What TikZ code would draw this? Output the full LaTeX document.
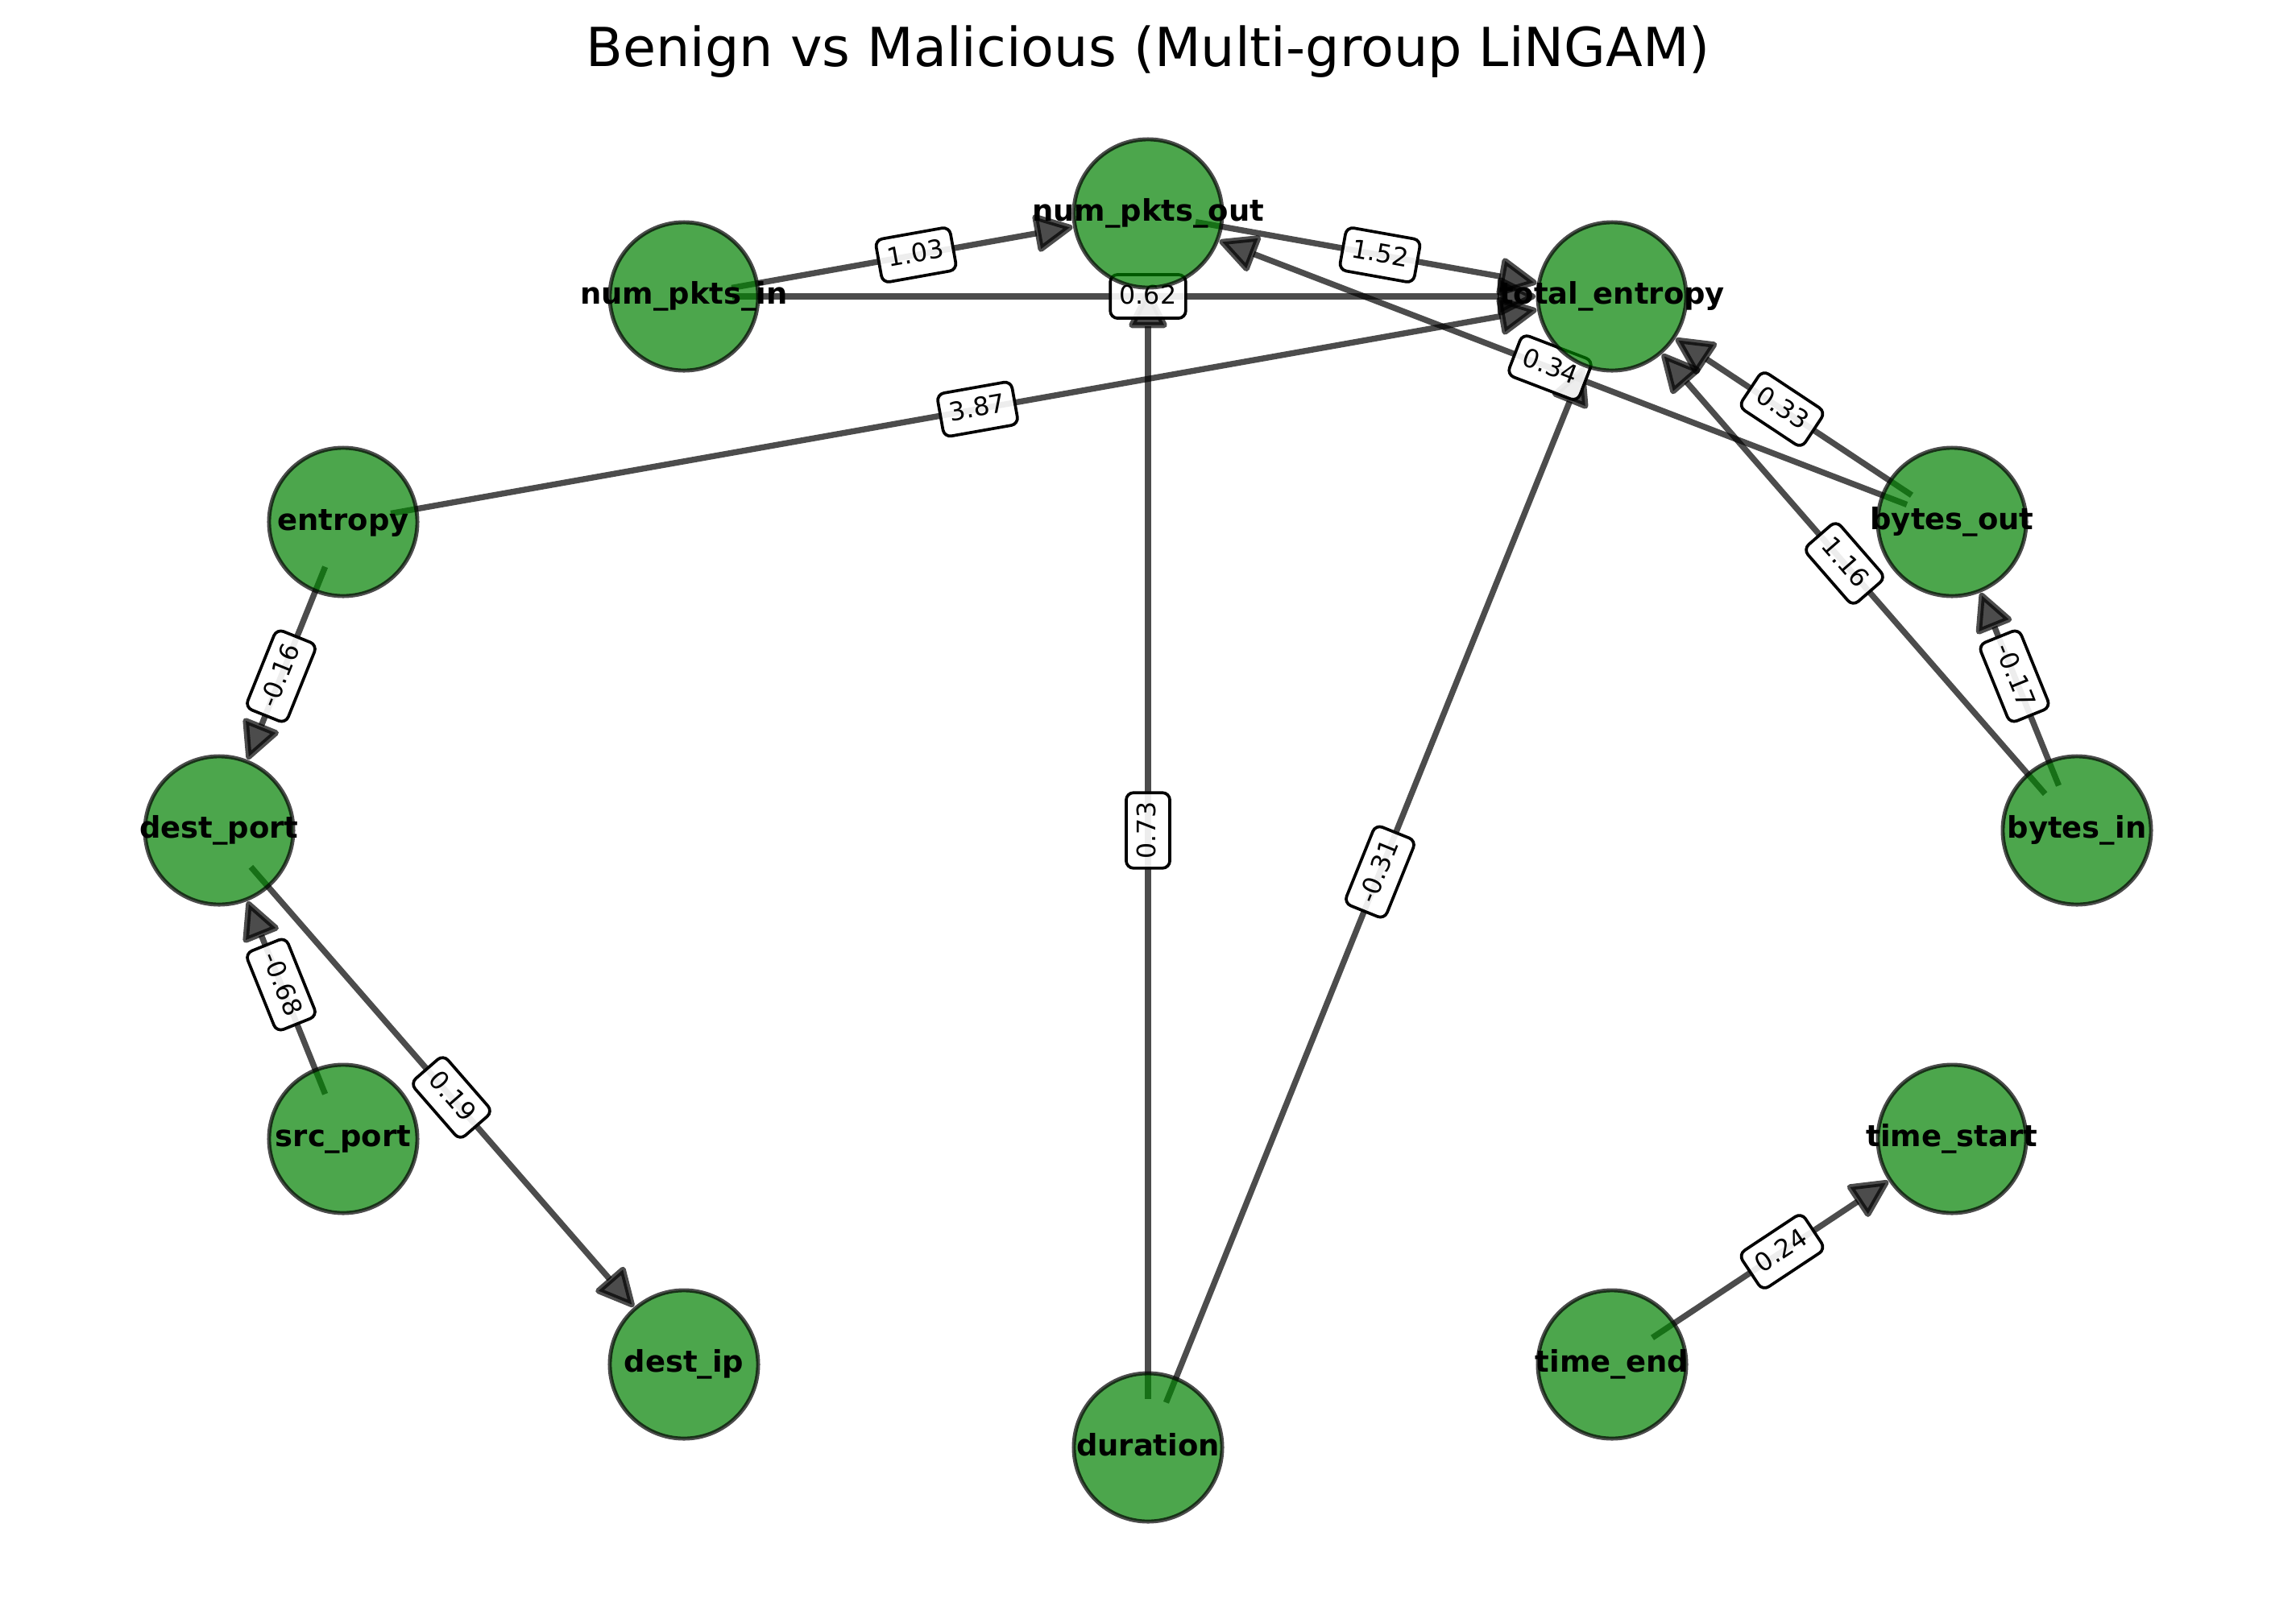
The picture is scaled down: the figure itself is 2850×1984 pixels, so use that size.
\documentclass[tikz,border=0pt]{standalone}
\usepackage{fontspec}
\setmainfont{DejaVu Sans}
\usepackage{xcolor}
\usepackage{tikz}
\usetikzlibrary{arrows.meta}
\definecolor{nodegreen}{RGB}{0,128,0}
\pgfdeclarelayer{edgelayer}
\pgfsetlayers{edgelayer,main}
\newcommand{\fname}[1]{\makebox[0pt]{\vphantom{dp}#1}}
\tikzset{
feature/.style = { circle, draw = black, draw opacity = 0.7, fill = nodegreen, fill opacity = 0.7, text opacity = 1, minimum size = 18.4mm, line width = 1.4pt, inner sep = 0pt, outer sep = 0pt, font = \fontsize{10.5}{12}\selectfont\bfseries },
link/.style = { draw = black, opacity = 0.7, line width = 2.1pt, -{Triangle[length = 5.2mm, width = 5mm, round]}, shorten <= -3.2mm, shorten >= 0.3mm },
weight/.style = { sloped, rectangle, rounded corners = 2.6pt, draw = black, line width = 1.05pt, fill = white, fill opacity = 0.9, text opacity = 1, inner xsep = 3.3pt, inner ysep = 2.7pt, text height = 0.76em, text depth = 0.24em, font = \fontsize{9}{10}\selectfont },
headline/.style = { font = \fontsize{19}{23}\selectfont, inner sep = 0pt }
}

\begin{document}
\begin{tikzpicture}[x = 0.01cm, y = -0.01cm]
    \useasboundingbox (0, 0) rectangle (2850, 1984);
    \node[headline, anchor = base] (title) at (1425, 82) {Benign vs Malicious (Multi-group LiNGAM)};
    \node[feature] (numpktsout) at (1425, 265) {\fname{num\_pkts\_out}};
    \node[feature] (numpktsin) at (849, 368) {\fname{num\_pkts\_in}};
    \node[feature] (totalentropy) at (2001, 368) {\fname{total\_entropy}};
    \node[feature] (entropy) at (426, 648) {\fname{entropy}};
    \node[feature] (bytesout) at (2423, 648) {\fname{bytes\_out}};
    \node[feature] (destport) at (272, 1031) {\fname{dest\_port}};
    \node[feature] (bytesin) at (2578, 1031) {\fname{bytes\_in}};
    \node[feature] (srcport) at (426, 1414) {\fname{src\_port}};
    \node[feature] (timestart) at (2423, 1414) {\fname{time\_start}};
    \node[feature] (destip) at (849, 1694) {\fname{dest\_ip}};
    \node[feature] (timeend) at (2001, 1694) {\fname{time\_end}};
    \node[feature] (duration) at (1425, 1797) {\fname{duration}};
    \begin{pgfonlayer}{edgelayer}
    \draw[link] (numpktsin) -- (numpktsout);
    \draw[link] (numpktsout) -- (totalentropy);
    \draw[link] (numpktsin) -- (totalentropy);
    \draw[link] (entropy) -- (totalentropy);
    \draw[link] (duration) -- (numpktsout);
    \draw[link] (duration) -- (totalentropy);
    \draw[link] (bytesout) -- (numpktsout);
    \draw[link] (bytesout) -- (totalentropy);
    \draw[link] (bytesin) -- (totalentropy);
    \draw[link] (bytesin) -- (bytesout);
    \draw[link] (entropy) -- (destport);
    \draw[link] (srcport) -- (destport);
    \draw[link] (destport) -- (destip);
    \draw[link] (timeend) -- (timestart);
    \path (numpktsin) -- node[weight] {1.03} (numpktsout);
    \path (numpktsout) -- node[weight] {1.52} (totalentropy);
    \path (numpktsin) -- node[weight] {0.62} (totalentropy);
    \path (entropy) -- node[weight] {3.87} (totalentropy);
    \path (duration) -- node[weight] {0.73} (numpktsout);
    \path (duration) -- node[weight] {-0.31} (totalentropy);
    \path (bytesout) -- node[weight] {0.34} (numpktsout);
    \path (bytesout) -- node[weight] {0.33} (totalentropy);
    \path (bytesin) -- node[weight] {1.16} (totalentropy);
    \path (bytesin) -- node[weight] {-0.17} (bytesout);
    \path (entropy) -- node[weight] {-0.16} (destport);
    \path (srcport) -- node[weight] {-0.68} (destport);
    \path (destport) -- node[weight] {0.19} (destip);
    \path (timeend) -- node[weight] {0.24} (timestart);
    \end{pgfonlayer}
\end{tikzpicture}
\end{document}
